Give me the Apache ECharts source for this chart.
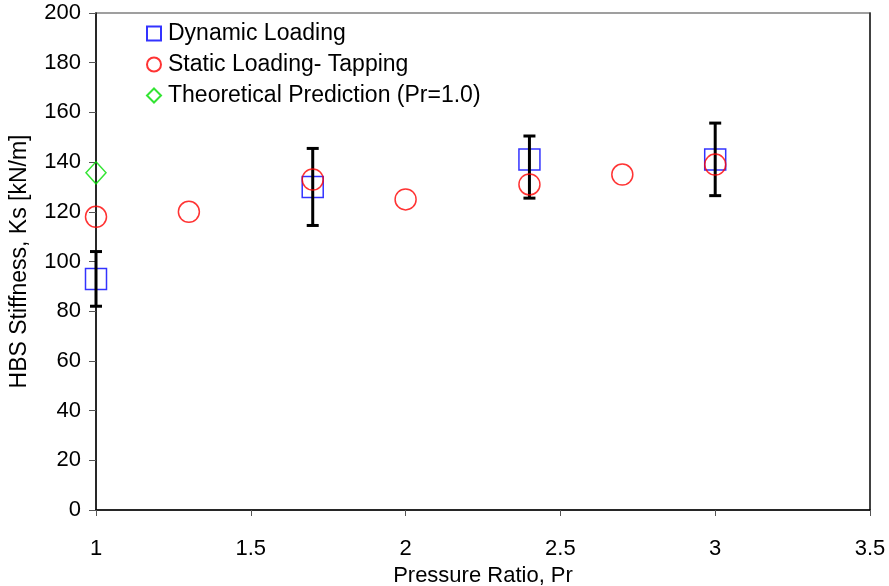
<!DOCTYPE html>
<html>
<head>
<meta charset="utf-8">
<script src="https://cdn.jsdelivr.net/npm/echarts@6/dist/echarts.min.js"></script>
<style>html,body{margin:0;padding:0;background:#fff}#c{width:889px;height:586px}</style>
</head>
<body>
<div id="c"></div>
<script>
// Data
const dynamicX = [1.0, 1.7, 2.4, 3.0];
const dynamicY = [93, 130, 141, 141];
const dynamicLow = [82, 114.5, 125.5, 126.5];
const dynamicHigh = [104, 145.5, 150.5, 155.7];

const staticX = [1.0, 1.3, 1.7, 2.0, 2.4, 2.7, 3.0];
const staticY = [118, 120, 133, 125, 131, 135, 139];

const theoryX = [1.0];
const theoryY = [135.7];

const xTicks = [1, 1.5, 2, 2.5, 3, 3.5];
const yTicks = [0, 20, 40, 60, 80, 100, 120, 140, 160, 180, 200];

const FONT = 'Liberation Sans, Arial, sans-serif';

const chart = echarts.init(document.getElementById('c'), null, {renderer: 'canvas'});

const errData = dynamicX.map((x, i) => [x, dynamicLow[i], dynamicHigh[i]]);

chart.setOption({
  backgroundColor: '#ffffff',
  animation: false,
  textStyle: {fontFamily: FONT},
  grid: {left: 96, right: 19, top: 13, bottom: 76, show: true, borderColor: '#808080', borderWidth: 1.5,
         backgroundColor: 'transparent', containLabel: false, outerBoundsMode: 'none'},
  legend: {
    orient: 'vertical',
    left: 141, top: 17,
    itemWidth: 14, itemHeight: 14, itemGap: 8,
    textStyle: {fontSize: 23, color: '#000', fontFamily: FONT, padding: [0, 0, 0, 2]},
    data: ['Dynamic Loading', 'Static Loading- Tapping', 'Theoretical Prediction (Pr=1.0)']
  },
  xAxis: [{
    type: 'value', min: xTicks[0], max: xTicks[xTicks.length - 1], interval: 0.5,
    name: 'Pressure Ratio, Pr', nameLocation: 'middle', nameGap: 53,
    nameTextStyle: {fontSize: 22, color: '#000', fontFamily: FONT},
    axisLine: {show: true, onZero: false, lineStyle: {color: '#000', width: 1.5}},
    axisTick: {show: true, inside: false, length: 6, lineStyle: {color: '#555', width: 1}},
    axisLabel: {fontSize: 22, color: '#000', margin: 28, fontFamily: FONT},
    splitLine: {show: false}
  }],
  yAxis: [{
    type: 'value', min: yTicks[0], max: yTicks[yTicks.length - 1], interval: 20,
    name: 'HBS Stiffness, Ks [kN/m]', nameLocation: 'middle', nameGap: 65,
    nameTextStyle: {fontSize: 23, color: '#000', fontFamily: FONT},
    axisLine: {show: true, onZero: false, lineStyle: {color: '#000', width: 1.5}},
    axisTick: {show: true, inside: false, length: 7, lineStyle: {color: '#555', width: 1}},
    axisLabel: {fontSize: 22, color: '#000', margin: 15, fontFamily: FONT},
    splitLine: {show: false}
  }, {
    type: 'value', position: 'right', min: yTicks[0], max: yTicks[yTicks.length - 1], interval: 20,
    axisLine: {show: true, lineStyle: {color: '#222', width: 1.5}},
    axisTick: {show: false}, axisLabel: {show: false}, splitLine: {show: false}
  }],
  series: [
    {
      name: 'Dynamic Loading', type: 'scatter', symbol: 'rect', symbolSize: 21, z: 2,
      itemStyle: {color: 'rgba(0,0,0,0)', borderColor: '#0000ff', borderWidth: 1.5},
      data: dynamicX.map((x, i) => [x, dynamicY[i]])
    },
    {
      name: 'errbars', type: 'custom', z: 3,
      renderItem: function (params, api) {
        const x = api.value(0);
        const lo = api.coord([x, api.value(1)]);
        const hi = api.coord([x, api.value(2)]);
        const cap = 6;
        const st = {stroke: '#000', lineWidth: 3};
        return {type: 'group', children: [
          {type: 'line', shape: {x1: lo[0], y1: lo[1], x2: hi[0], y2: hi[1]}, style: st},
          {type: 'line', shape: {x1: lo[0] - cap, y1: lo[1], x2: lo[0] + cap, y2: lo[1]}, style: st},
          {type: 'line', shape: {x1: hi[0] - cap, y1: hi[1], x2: hi[0] + cap, y2: hi[1]}, style: st}
        ]};
      },
      data: errData
    },
    {
      name: 'Static Loading- Tapping', type: 'scatter', symbol: 'circle', symbolSize: 21, z: 4,
      itemStyle: {color: 'rgba(0,0,0,0)', borderColor: '#ff0000', borderWidth: 1.5},
      data: staticX.map((x, i) => [x, staticY[i]])
    },
    {
      name: 'Theoretical Prediction (Pr=1.0)', type: 'scatter', symbol: 'diamond', symbolSize: [20, 22], z: 4,
      itemStyle: {color: 'rgba(0,0,0,0)', borderColor: '#00dd00', borderWidth: 1.5},
      data: theoryX.map((x, i) => [x, theoryY[i]])
    }
  ]
});
</script>
</body>
</html>
